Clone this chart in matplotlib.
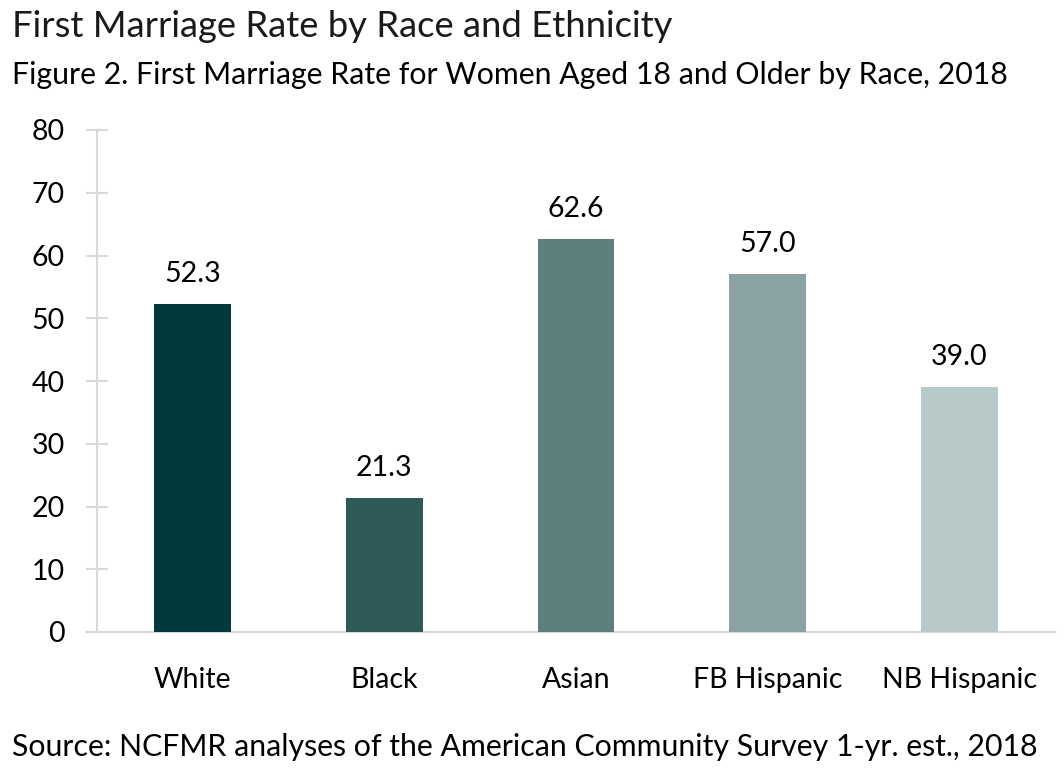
import matplotlib
matplotlib.use("Agg")
import matplotlib.pyplot as plt
import numpy as np

# --- data ---
CATEGORIES = ["White", "Black", "Asian", "FB Hispanic", "NB Hispanic"]
RATES = [52.3, 21.3, 62.6, 57.0, 39.0]
BAR_COLORS = ["#03393A", "#2E5A5A", "#5D807E", "#8AA3A2", "#B8C9C9"]
Y_TICKS = [0, 10, 20, 30, 40, 50, 60, 70, 80]

TITLE = "First Marriage Rate by Race and Ethnicity"
SUBTITLE = "Figure 2. First Marriage Rate for Women Aged 18 and Older by Race, 2018"
SOURCE = "Source: NCFMR analyses of the American Community Survey 1-yr. est., 2018"

plt.rcParams["font.family"] = ["Lato", "DejaVu Sans"]

W, H = 1063, 778
fig = plt.figure(figsize=(W / 100, H / 100), dpi=100)
ax = fig.add_axes([97 / W, 1 - 632 / H, (1055 - 97) / W, (632 - 130) / H])

x = np.arange(len(CATEGORIES))
ax.bar(x, RATES, width=0.4, color=BAR_COLORS, zorder=3)
for xi, v in zip(x, RATES):
    ax.annotate(f"{v:.1f}", (xi, v), textcoords="offset points", xytext=(0, 16),
                ha="center", va="baseline", fontsize=20.5, color="black")

ax.set_xlim(-0.5, len(CATEGORIES) - 0.5)
ax.set_ylim(0, 80)
ax.set_yticks(Y_TICKS)
ax.set_xticks(x)
ax.set_xticklabels(CATEGORIES, fontsize=20.5)
ax.tick_params(axis="y", labelsize=20.5, direction="inout", length=16, width=1.5,
               color="#D9D9D9", pad=15)
ax.tick_params(axis="x", length=0, pad=25)

for s in ["top", "right"]:
    ax.spines[s].set_visible(False)
for s in ["left", "bottom"]:
    ax.spines[s].set_color("#D9D9D9")
    ax.spines[s].set_linewidth(1.5)
ax.spines["bottom"].set_bounds(-0.5 - 11 / 191.5, len(CATEGORIES) - 0.5)

fig.text(12 / W, 1 - 37 / H, TITLE, fontsize=26.2, fontweight="normal",
         ha="left", va="baseline", color="#1A1A1A")
fig.text(12 / W, 1 - 84 / H, SUBTITLE, fontsize=21.8,
         ha="left", va="baseline", color="black")
fig.text(12 / W, 1 - 756 / H, SOURCE, fontsize=21.8,
         ha="left", va="baseline", color="black")

fig.savefig("out.png", dpi=100, facecolor="white")
